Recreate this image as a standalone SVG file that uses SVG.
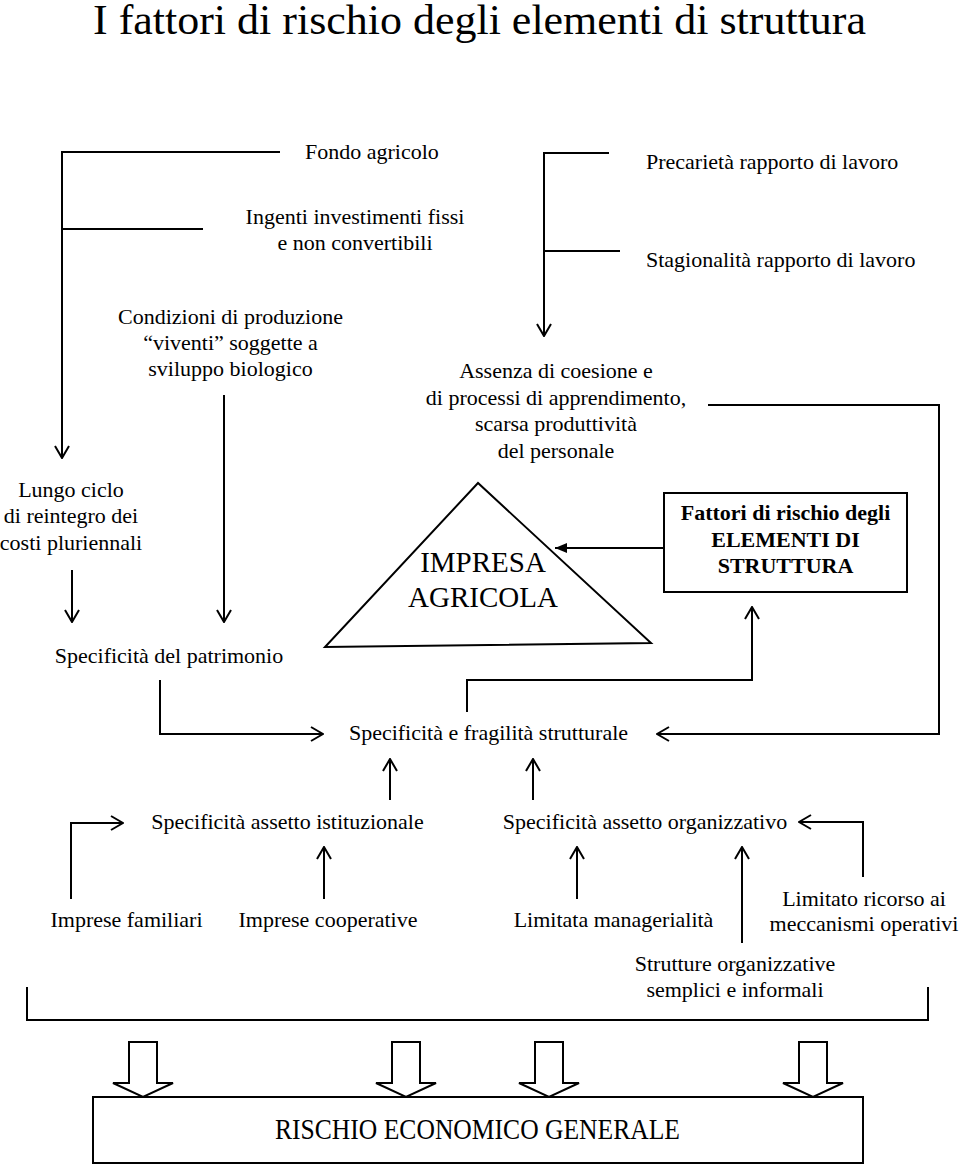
<svg xmlns="http://www.w3.org/2000/svg" width="960" height="1167" viewBox="0 0 960 1167">
<defs>
<style>
text{font-family:"Liberation Serif","Times New Roman",serif;font-size:22px;fill:#000}
.m{text-anchor:middle}
.title{font-size:43px}
.big{font-size:29px}
.b{font-weight:bold}
.ln{fill:none;stroke:#000;stroke-width:2}
.arr{marker-end:url(#open)}
.shape{fill:#fff;stroke:#000;stroke-width:2}
</style>
<marker id="open" viewBox="0 0 14 16" refX="13" refY="8" markerWidth="14" markerHeight="16" markerUnits="userSpaceOnUse" orient="auto">
<path d="M1,1 L13,8 L1,15" fill="none" stroke="#000" stroke-width="2"/>
</marker>
<marker id="solid" viewBox="0 0 12 10" refX="12" refY="5" markerWidth="12" markerHeight="10" markerUnits="userSpaceOnUse" orient="auto">
<path d="M0,0 L12,5 L0,10 Z" fill="#000"/>
</marker>
</defs>
<rect width="960" height="1167" fill="#fff"/>
<text class="title m" x="479.5" y="34" textLength="773" lengthAdjust="spacingAndGlyphs">I fattori di rischio degli elementi di struttura</text>

<g id="connectors">
<path class="ln arr" d="M280,152 H62 V458"/>
<path class="ln" d="M203,229 H62"/>
<path class="ln arr" d="M609,153 H544 V336"/>
<path class="ln" d="M620,251 H544"/>
<path class="ln arr" d="M224,395 V622"/>
<path class="ln arr" d="M72,570 V622"/>
<path class="ln arr" d="M708,405 H939 V734 H657"/>
<path class="ln" d="M664,548 H555" marker-end="url(#solid)"/>
<path class="ln arr" d="M467,712 V680 H752 V607"/>
<path class="ln arr" d="M160,680 V734 H323"/>
<path class="ln arr" d="M390,800 V759"/>
<path class="ln arr" d="M533,800 V759"/>
<path class="ln arr" d="M71,899 V823 H123"/>
<path class="ln arr" d="M324,899 V847"/>
<path class="ln arr" d="M577,899 V847"/>
<path class="ln arr" d="M742,943 V847"/>
<path class="ln arr" d="M863,877 V822 H799"/>
<path class="ln" d="M27,987 V1020 H928 V987"/>
<polygon class="shape" points="129,1042 157,1042 157,1083 173,1083 143,1097 113,1083 129,1083"/>
<polygon class="shape" points="392,1042 420,1042 420,1083 436,1083 406,1097 376,1083 392,1083"/>
<polygon class="shape" points="535,1042 563,1042 563,1083 579,1083 549,1097 519,1083 535,1083"/>
<polygon class="shape" points="799,1042 827,1042 827,1083 843,1083 813,1097 783,1083 799,1083"/>
</g>

<g id="fondo"><text x="305" y="159">Fondo agricolo</text></g>
<g id="ingenti"><text class="m" x="355" y="224">Ingenti investimenti fissi</text><text class="m" x="355" y="250">e non convertibili</text></g>
<g id="precarieta"><text x="646" y="169">Precarietà rapporto di lavoro</text></g>
<g id="stagionalita"><text x="646" y="267">Stagionalità rapporto di lavoro</text></g>
<g id="condizioni"><text class="m" x="230.5" y="324">Condizioni di produzione</text><text class="m" x="230.5" y="350">“viventi” soggette a</text><text class="m" x="230.5" y="376">sviluppo biologico</text></g>
<g id="assenza"><text class="m" x="556" y="378">Assenza di coesione e</text><text class="m" x="556" y="404.5">di processi di apprendimento,</text><text class="m" x="556" y="431">scarsa produttività</text><text class="m" x="556" y="457.5">del personale</text></g>
<g id="lungo"><text class="m" x="71" y="497">Lungo ciclo</text><text class="m" x="71" y="523">di reintegro dei</text><text class="m" x="71" y="550">costi pluriennali</text></g>
<g id="impresa"><polygon class="shape" points="478,483 325,647 651,643"/><text class="m big" x="483" y="572">IMPRESA</text><text class="m big" x="483" y="607">AGRICOLA</text></g>
<g id="fattori"><rect class="shape" x="664" y="493" width="243" height="99"/><text class="m b" x="785.5" y="520">Fattori di rischio degli</text><text class="m b" x="785.5" y="547">ELEMENTI DI</text><text class="m b" x="785.5" y="573">STRUTTURA</text></g>
<g id="patrimonio"><text class="m" x="169" y="663">Specificità del patrimonio</text></g>
<g id="fragilita"><text class="m" x="488.5" y="740">Specificità e fragilità strutturale</text></g>
<g id="istituzionale"><text class="m" x="287.5" y="829">Specificità assetto istituzionale</text></g>
<g id="organizzativo"><text class="m" x="645" y="829">Specificità assetto organizzativo</text></g>
<g id="familiari"><text class="m" x="126.5" y="927">Imprese familiari</text></g>
<g id="cooperative"><text class="m" x="328" y="927">Imprese cooperative</text></g>
<g id="managerialita"><text class="m" x="613.5" y="927">Limitata managerialità</text></g>
<g id="ricorso"><text class="m" x="864" y="906">Limitato ricorso ai</text><text class="m" x="864" y="931">meccanismi operativi</text></g>
<g id="strutture"><text class="m" x="735" y="971">Strutture organizzative</text><text class="m" x="735" y="997">semplici e informali</text></g>
<g id="rischio"><rect class="shape" x="93" y="1097" width="770" height="66"/><text class="m big" x="477.5" y="1139" textLength="405" lengthAdjust="spacingAndGlyphs">RISCHIO ECONOMICO GENERALE</text></g>
</svg>
